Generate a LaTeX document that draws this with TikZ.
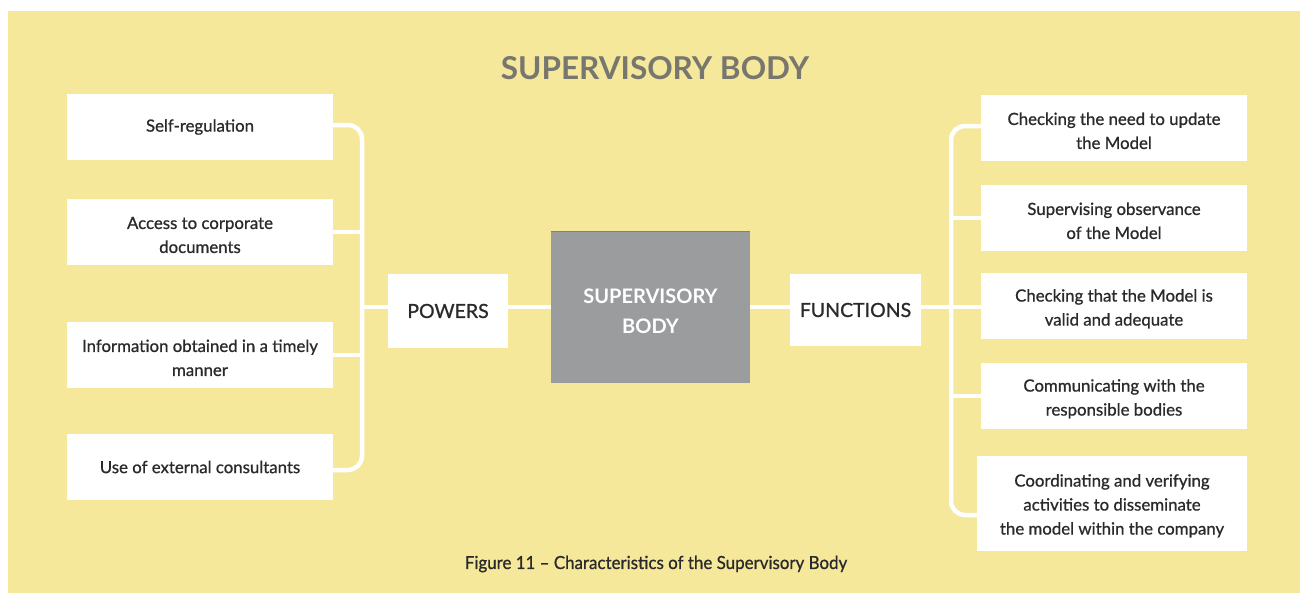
\documentclass[tikz,border=0pt]{standalone}
\usepackage{fontspec}
\usepackage{graphicx}
\setmainfont{Lato}
\newfontfamily\medium{Lato}[FakeBold=0.8]
\definecolor{panel}{HTML}{F6E89A}
\definecolor{ink}{HTML}{2A2A2A}
\definecolor{titlegray}{HTML}{77776F}
\definecolor{hubgray}{HTML}{9A9C9E}
\definecolor{hubedge}{HTML}{7E8083}
% strut that lowers the first line of a multi-line label a little
\newcommand{\lowerstrut}{\rule{0pt}{18pt}}
\begin{document}
\begin{tikzpicture}[x=1pt,y=-1pt,
  leaf/.style={fill=white, minimum width=266pt, minimum height=66pt,
    align=center, inner sep=0pt, text=ink,
    font=\medium\fontsize{16.8}{24}\selectfont},
  branch/.style={fill=white, minimum height=74pt, inner sep=0pt,
    text=ink, font=\medium\fontsize{19.5}{24}\selectfont},
  wire/.style={draw=white, line width=4.5pt}]
\useasboundingbox (0,0) rectangle (1304,597);
\fill[white] (0,0) rectangle (1304,597);
\fill[panel] (8,11) rectangle (1300,593);

% heading
\node[text=titlegray, font=\fontsize{31.5}{36}\bfseries] (title) at (655,68.5) {SUPERVISORY BODY};

% central block
\node[fill=hubgray, minimum width=199pt, minimum height=151pt, inner sep=0pt,
      align=center, text=white, font=\fontsize{20}{30}\bfseries] (hub) at (650.5,307.5)
      {\rule{0pt}{22pt}SUPERVISORY\\BODY};
\draw[hubedge, line width=1pt] (hub.north west) -- (hub.north east);

% the two branches
\node[branch, minimum width=120pt] (powers) at (448,311) {POWERS};
\node[branch, minimum width=131pt, minimum height=72pt] (functions) at (855.5,310) {FUNCTIONS};

% powers
\node[leaf] (l1) at (200,127) {Self-regulation};
\node[leaf] (l2) at (200,232) {\lowerstrut Access to corporate\\documents};
\node[leaf] (l3) at (200,355) {\lowerstrut Information obtained in a timely\\manner};
\node[leaf] (l4) at (200,467) {Use of external consultants};

% functions
\node[leaf] (r1) at (1114,128) {\lowerstrut Checking the need to update\\the Model};
\node[leaf] (r2) at (1114,218) {\lowerstrut Supervising observance\\of the Model};
\node[leaf] (r3) at (1114,306) {\lowerstrut Checking that the Model is\\valid and adequate};
\node[leaf] (r4) at (1114,396) {\lowerstrut Communicating with the\\responsible bodies};
\node[leaf, minimum width=270pt, minimum height=95pt] (r5) at (1112,503)
  {\lowerstrut Coordinating and verifying\\activities to disseminate\\the model within the company};

% left bracket
\coordinate (lspine) at (362,307);
\draw[wire, rounded corners=14pt] ([yshift=2pt]l1.east) -| (lspine) |- ([yshift=-3pt]l4.east);
\draw[wire] (l2.east) -- (l2.east -| lspine);
\draw[wire] (l3.east) -- (l3.east -| lspine);
\draw[wire] (lspine) -- (lspine -| powers.west);
\draw[wire] (powers.east |- lspine) -- (lspine -| hub.west);

% right bracket
\coordinate (rspine) at (951,307);
\draw[wire, rounded corners=14pt] ([yshift=2pt]r1.west) -| (rspine) |- ([yshift=-12pt]r5.west);
\draw[wire] (r2.west) -- (r2.west -| rspine);
\draw[wire] (r3.west |- rspine) -- (rspine);
\draw[wire] (r4.west) -- (r4.west -| rspine);
\draw[wire] (hub.east |- rspine) -- (rspine -| functions.west);
\draw[wire] (functions.east |- rspine) -- (rspine);

% caption
\node[text=ink, font=\medium\fontsize{18}{20}\selectfont] (caption) at (656,564)
  {\scalebox{0.94}[1]{Figure 11 – Characteristics of the Supervisory Body}};
\end{tikzpicture}
\end{document}
